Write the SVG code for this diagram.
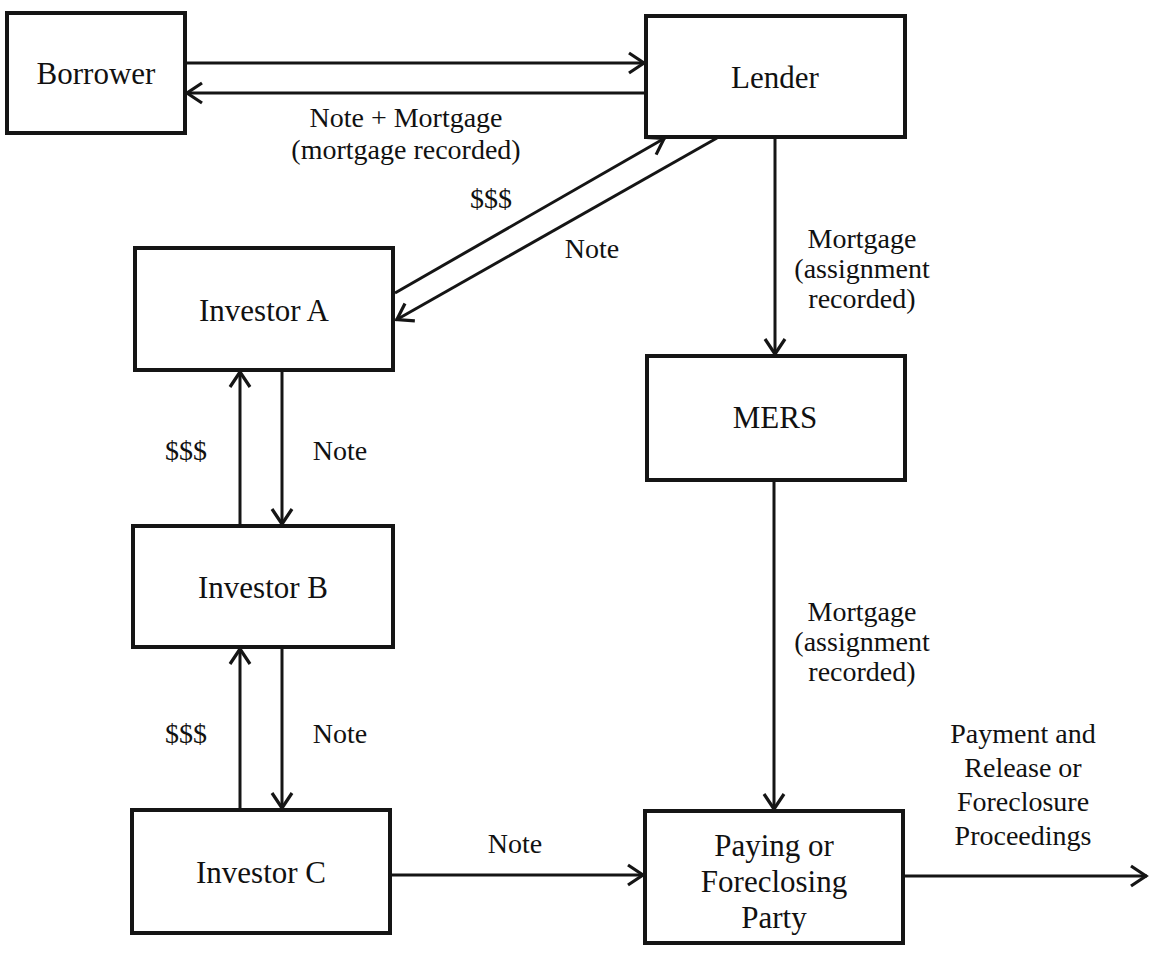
<svg xmlns="http://www.w3.org/2000/svg" width="1149" height="954" viewBox="0 0 1149 954">
<style>
.box{fill:#fff;stroke:#151515;stroke-width:4}
.t{font-family:"Liberation Serif","Times New Roman",serif;font-size:31px;fill:#111;text-anchor:middle}
.l{font-family:"Liberation Serif","Times New Roman",serif;font-size:28px;fill:#111;text-anchor:middle}
.c{stroke:#151515;stroke-width:3;fill:none;marker-end:url(#ah)}
</style>
<defs>
<marker id="ah" markerUnits="userSpaceOnUse" viewBox="-20 -13 22 26" markerWidth="22" markerHeight="26" refX="0" refY="0" orient="auto">
<path d="M-16,-10 L-1,0 L-16,10" fill="none" stroke="#151515" stroke-width="3.2"/>
</marker>
</defs>
<rect width="1149" height="954" fill="#fff"/>
<g id="connectors">
<line class="c" x1="185" y1="63" x2="645" y2="63"/>
<line class="c" x1="646" y1="93" x2="186" y2="93"/>
<line class="c" x1="395" y1="293" x2="665" y2="138"/>
<line class="c" x1="717" y1="138" x2="396" y2="320"/>
<line class="c" x1="775" y1="137" x2="775" y2="355"/>
<line class="c" x1="240" y1="526" x2="240" y2="371"/>
<line class="c" x1="282" y1="370" x2="282" y2="525"/>
<line class="c" x1="240" y1="810" x2="240" y2="648"/>
<line class="c" x1="282" y1="647" x2="282" y2="809"/>
<line class="c" x1="774" y1="480" x2="774" y2="810"/>
<line class="c" x1="390" y1="875" x2="644" y2="875"/>
<line class="c" x1="903" y1="876" x2="1147" y2="876"/>
<text class="l" x="406" y="127">Note + Mortgage</text>
<text class="l" x="406" y="159">(mortgage recorded)</text>
<text class="l" x="491" y="208">$$$</text>
<text class="l" x="592" y="258">Note</text>
<text class="l" x="862" y="248">Mortgage</text>
<text class="l" x="862" y="278">(assignment</text>
<text class="l" x="862" y="308">recorded)</text>
<text class="l" x="186" y="460">$$$</text>
<text class="l" x="340" y="460">Note</text>
<text class="l" x="186" y="743">$$$</text>
<text class="l" x="340" y="743">Note</text>
<text class="l" x="862" y="621">Mortgage</text>
<text class="l" x="862" y="651">(assignment</text>
<text class="l" x="862" y="681">recorded)</text>
<text class="l" x="515" y="853">Note</text>
<text class="l" x="1023" y="743">Payment and</text>
<text class="l" x="1023" y="777">Release or</text>
<text class="l" x="1023" y="811">Foreclosure</text>
<text class="l" x="1023" y="845">Proceedings</text>
</g>
<g id="borrower"><rect class="box" x="7" y="13" width="178" height="120"/><text class="t" x="96" y="84">Borrower</text></g>
<g id="lender"><rect class="box" x="646" y="16" width="259" height="121"/><text class="t" x="775" y="88">Lender</text></g>
<g id="investor-a"><rect class="box" x="135" y="248" width="258" height="122"/><text class="t" x="264" y="321">Investor A</text></g>
<g id="mers"><rect class="box" x="647" y="356" width="258" height="124"/><text class="t" x="775" y="428">MERS</text></g>
<g id="investor-b"><rect class="box" x="133" y="526" width="260" height="121"/><text class="t" x="263" y="598">Investor B</text></g>
<g id="investor-c"><rect class="box" x="132" y="810" width="258" height="123"/><text class="t" x="261" y="883">Investor C</text></g>
<g id="paying"><rect class="box" x="645" y="811" width="258" height="132"/><text class="t" x="774" y="856">Paying or</text><text class="t" x="774" y="892">Foreclosing</text><text class="t" x="774" y="928">Party</text></g>
</svg>
